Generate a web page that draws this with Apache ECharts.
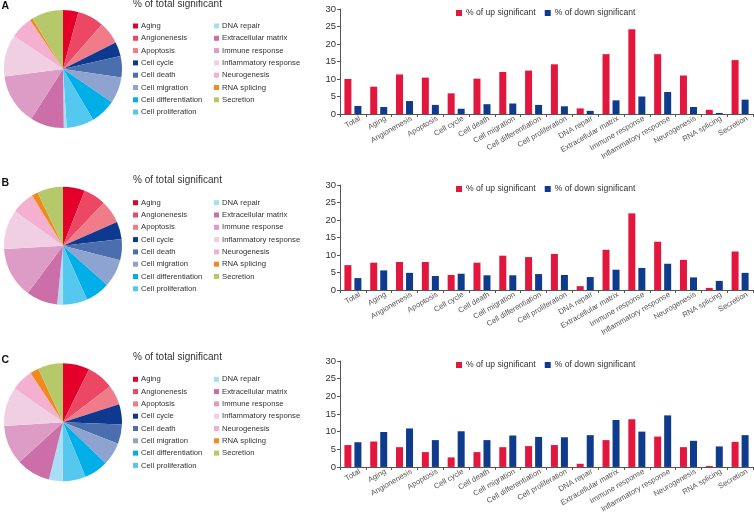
<!DOCTYPE html>
<html>
<head>
<meta charset="utf-8">
<script src="https://cdn.jsdelivr.net/npm/echarts@6/dist/echarts.min.js"></script>
<style>
  html, body { margin: 0; padding: 0; background: #fff; }
  #chart { width: 754px; height: 515px; }
</style>
</head>
<body>
<div id="chart"></div>
<script>
const categories = ["Total", "Aging", "Angionenesis", "Apoptosis", "Cell cycle", "Cell death",
    "Cell migration", "Cell differentiation", "Cell proliferation", "DNA repair",
    "Extracellular matrix", "Immune response", "Inflammatory response", "Neurogenesis",
    "RNA splicing", "Secretion"];
const pieNames = categories.slice(1);

// % of total significant (pie shares)
const pieA = [4.2, 7.2, 6.1, 3.9, 5.8, 7.2, 6.9, 7.5, 0.8, 9.2, 13.9, 11.4, 6.1, 0.8, 8.6];
const pieB = [6.0, 6.1, 6.3, 4.8, 5.8, 7.6, 6.7, 6.8, 1.5, 8.6, 13.9, 10.8, 6.3, 1.7, 7.1];
const pieC = [7.3, 7.4, 5.4, 5.6, 5.3, 6.3, 6.6, 6.3, 3.8, 9.4, 10.8, 10.8, 6.0, 2.4, 6.9];

// bar values
const upA = [10.0, 7.8, 11.3, 10.4, 5.9, 10.1, 12.0, 12.4, 14.2, 1.6, 17.1, 24.2, 17.1, 11.0, 1.2, 15.4];
const downA = [2.3, 2.0, 3.7, 2.6, 1.5, 2.8, 3.0, 2.6, 2.2, 0.9, 3.9, 5.0, 6.3, 2.0, 0.3, 4.1];
const upB = [7.1, 7.8, 8.0, 8.0, 4.3, 7.8, 9.8, 9.4, 10.3, 1.1, 11.5, 21.9, 13.8, 8.6, 0.6, 11.0];
const downB = [3.4, 5.6, 4.9, 4.0, 4.65, 4.2, 4.2, 4.55, 4.3, 3.7, 5.8, 6.3, 7.5, 3.6, 2.6, 4.9];
const upC = [6.2, 7.2, 5.6, 4.2, 2.7, 4.2, 5.6, 5.9, 6.2, 0.9, 7.6, 13.5, 8.6, 5.6, 0.3, 7.1];
const downC = [7.0, 9.9, 10.9, 7.6, 10.1, 7.6, 8.9, 8.5, 8.4, 9.0, 13.3, 10.0, 14.6, 7.4, 5.8, 9.0];

const pieColors = ["#e4002b", "#ec4863", "#f07c8a", "#0d3a8e", "#4b6fae", "#8ea3d0", "#00aee8",
    "#55c8f0", "#a8def5", "#cc6fa8", "#dc9cc6", "#f1cfe3", "#f3b0cf", "#f08a1c", "#b5c96a"];
const UP = "% of up significant";
const DOWN = "% of down significant";
const RED = "#e3173e";
const BLUE = "#0f3b8c";
const FONT = "Liberation Sans";

const panels = [
    { letter: "A", pie: pieA, up: upA, down: downA, dy: 0, gridTop: 9, gridH: 105 },
    { letter: "B", pie: pieB, up: upB, down: downB, dy: 176.7, gridTop: 185, gridH: 105 },
    { letter: "C", pie: pieC, up: upC, down: downC, dy: 353.3, gridTop: 361, gridH: 106 }
];

const option = {
    animation: false,
    textStyle: { fontFamily: FONT },
    title: [],
    legend: [],
    grid: [],
    xAxis: [],
    yAxis: [],
    series: []
};

panels.forEach((p, i) => {
    option.title.push({
        text: p.letter, left: 1.5, top: p.dy + 1, padding: 0,
        textStyle: { fontSize: 10.5, fontWeight: "bold", color: "#111", fontFamily: FONT }
    });
    option.title.push({
        text: "% of total significant", left: 133, top: p.dy - 1, padding: 0,
        textStyle: { fontSize: 10, fontWeight: "normal", color: "#333", fontFamily: FONT }
    });

    const pieLegend = (names, left) => ({
        orient: "vertical", left: left, top: 20 + p.dy, padding: 0,
        icon: "rect", itemWidth: 5, itemHeight: 5, itemGap: 0.3,
        selectedMode: false,
        textStyle: { fontSize: 7.7, lineHeight: 12, color: "#333", fontFamily: FONT, padding: [0, 0, 0, -2] },
        data: names
    });
    option.legend.push(pieLegend(pieNames.slice(0, 8), 133));
    option.legend.push(pieLegend(pieNames.slice(8), 214));
    option.legend.push({
        left: 456, top: p.gridTop - 1, padding: 0,
        icon: "rect", itemWidth: 6, itemHeight: 6, itemGap: 9,
        selectedMode: false,
        textStyle: { fontSize: 8.6, lineHeight: 10, color: "#333", fontFamily: FONT, padding: [0, 0, 0, -1] },
        data: [UP, DOWN]
    });

    option.series.push({
        type: "pie",
        center: [63, 69 + p.dy],
        radius: 59,
        startAngle: 90,
        clockwise: true,
        silent: true,
        label: { show: false },
        labelLine: { show: false },
        data: pieNames.map((name, k) => ({
            name: name, value: p.pie[k], itemStyle: { color: pieColors[k] }
        }))
    });

    option.grid.push({ left: 340, right: 1, top: p.gridTop, height: p.gridH });
    option.xAxis.push({
        type: "category", gridIndex: i, data: categories,
        axisLine: { lineStyle: { color: "#555", width: 1 } },
        axisTick: { show: true, interval: 0, length: 3, lineStyle: { color: "#555" } },
        axisLabel: {
            interval: 0, rotate: 30, fontSize: 7.7, color: "#555", margin: 8,
            padding: [0, -8, 0, 0], fontFamily: FONT
        }
    });
    option.yAxis.push({
        type: "value", gridIndex: i, min: 0, max: 30, interval: 5,
        splitLine: { show: false },
        axisLine: { show: true, lineStyle: { color: "#555", width: 1 } },
        axisTick: { show: true, length: 3, lineStyle: { color: "#555" } },
        axisLabel: { fontSize: 9.5, color: "#333", margin: 4, fontFamily: FONT }
    });
    option.series.push({
        name: UP, type: "bar", xAxisIndex: i, yAxisIndex: i,
        data: p.up, barWidth: 7, barGap: "43%",
        itemStyle: { color: RED }
    });
    option.series.push({
        name: DOWN, type: "bar", xAxisIndex: i, yAxisIndex: i,
        data: p.down, barWidth: 7, barGap: "43%",
        itemStyle: { color: BLUE }
    });
});

const chart = echarts.init(document.getElementById("chart"), null, { renderer: "canvas" });
chart.setOption(option);
</script>
</body>
</html>
